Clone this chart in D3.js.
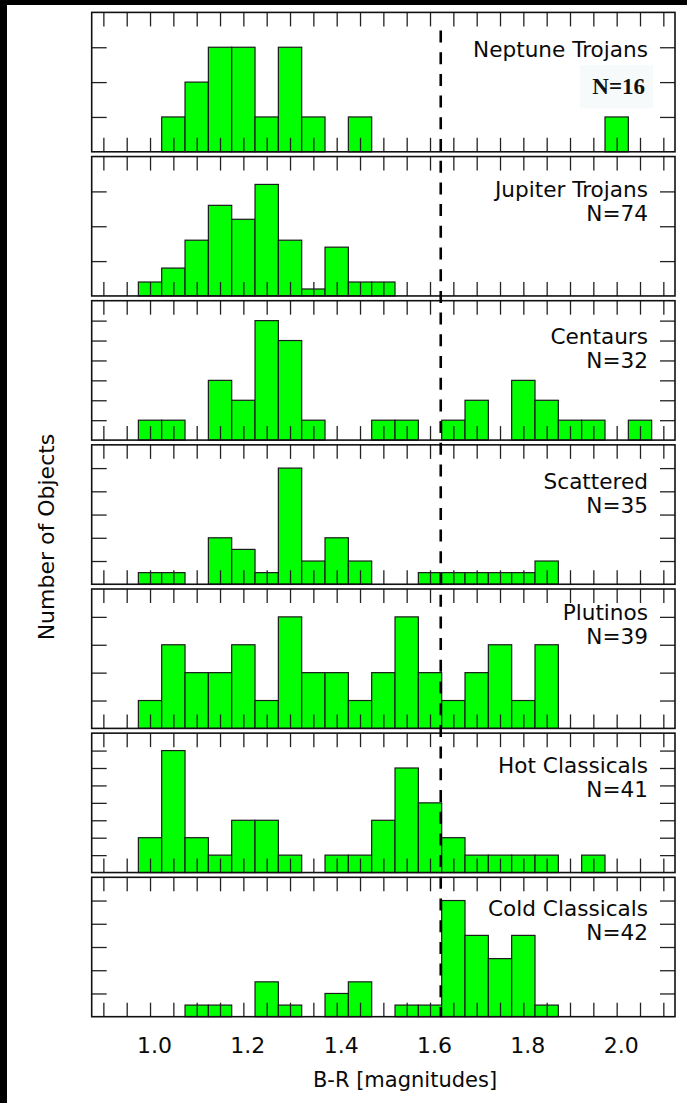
<!DOCTYPE html>
<html>
<head>
<meta charset="utf-8">
<script src="https://cdn.jsdelivr.net/npm/d3@7"></script>
<style>
  html, body { margin: 0; padding: 0; background: #fff; }
  svg { display: block; }
</style>
</head>
<body>
<svg id="chart" width="687" height="1103"></svg>
<script>
// B-R colour histograms, one panel per dynamical class (bins 0.05 mag wide)
const binCenters = [1.00,1.05,1.10,1.15,1.20,1.25,1.30,1.35,1.40,1.45,1.50,
                    1.55,1.60,1.65,1.70,1.75,1.80,1.85,1.90,1.95,2.00,2.05];
const neptuneTrojans = [0,1,2,3,3,1,3,1,0,1,0,0,0,0,0,0,0,0,0,0,1,0];
const jupiterTrojans = [2,4,8,13,11,16,8,1,7,2,2,0,0,0,0,0,0,0,0,0,0,0];
const centaurs       = [1,1,0,3,2,6,5,1,0,0,1,1,0,1,2,0,3,2,1,1,0,1];
const scattered      = [1,1,0,4,3,1,10,2,4,2,0,0,1,1,1,1,1,2,0,0,0,0];
const plutinos       = [1,3,2,2,3,1,4,2,2,1,2,4,2,1,2,3,1,3,0,0,0,0];
const hotClassicals  = [2,7,2,1,3,3,1,0,1,1,3,6,4,2,1,1,1,1,0,1,0,0];
const coldClassicals = [0,0,1,1,0,3,1,0,2,3,0,1,1,10,7,5,7,1,0,0,0,0];

const panelNames  = ["Neptune Trojans","Jupiter Trojans","Centaurs","Scattered",
                     "Plutinos","Hot Classicals","Cold Classicals"];
const panelCounts = [16,74,32,35,39,41,42];
const panelSeries = [neptuneTrojans,jupiterTrojans,centaurs,scattered,
                     plutinos,hotClassicals,coldClassicals];
const yMax  = [4,20,7,12,5,8,12];
const yStep = [1,5,1,2,1,1,2];

const xMinorTicks = d3.range(18, 43).map(k => k * 0.05);   // 0.90 ... 2.10
const xLabelTicks = [1.0,1.2,1.4,1.6,1.8,2.0];
const binWidth = 0.05;
const colourDivide = 1.623;

const svg = d3.select("#chart");
const FONT = "DejaVu Sans, Verdana, sans-serif";

// layout
const left = 91.7, right = 675;
const firstTop = 12.4, panelStep = 144.15, panelH = 139.4;
const tickLen = 14;
const nameBase = [45, 40, 43.3, 44.3, 31.4, 40, 39];

const x = d3.scaleLinear().domain([0.875, 2.125]).range([left, right]);

panelSeries.forEach((series, i) => {
  const top = firstTop + i * panelStep;
  const bottom = top + panelH;
  const y = d3.scaleLinear().domain([0, yMax[i]]).range([bottom, top]);
  const g = svg.append("g");

  // bars
  g.selectAll("rect.bar")
    .data(binCenters.map((c, j) => ({c, n: series[j]})).filter(d => d.n > 0))
    .join("rect")
    .attr("class", "bar")
    .attr("x", d => x(d.c - binWidth / 2))
    .attr("width", d => x(d.c + binWidth / 2) - x(d.c - binWidth / 2))
    .attr("y", d => y(d.n))
    .attr("height", d => y(0) - y(d.n))
    .attr("fill", "#00ff00")
    .attr("stroke", "#1a1a1a")
    .attr("stroke-width", 1.2);

  const yTicks = d3.range(yStep[i], yMax[i], yStep[i]);

  // inward ticks on all four sides
  const axes = [
    g.append("g").attr("transform", `translate(0,${bottom})`)
      .call(d3.axisBottom(x).tickValues(xMinorTicks).tickSize(-tickLen).tickFormat("")),
    g.append("g").attr("transform", `translate(0,${top})`)
      .call(d3.axisTop(x).tickValues(xMinorTicks).tickSize(-tickLen).tickFormat("")),
    g.append("g").attr("transform", `translate(${left},0)`)
      .call(d3.axisLeft(y).tickValues(yTicks).tickSize(-tickLen - 1).tickFormat("")),
    g.append("g").attr("transform", `translate(${right},0)`)
      .call(d3.axisRight(y).tickValues(yTicks).tickSize(-tickLen - 1).tickFormat(""))
  ];
  axes.forEach(a => {
    a.select(".domain").remove();
    a.selectAll(".tick line").attr("stroke", "#222").attr("stroke-width", 1.3);
  });

  // frame
  g.append("rect")
    .attr("x", left).attr("y", top)
    .attr("width", right - left).attr("height", panelH)
    .attr("fill", "none").attr("stroke", "#111").attr("stroke-width", 1.6);

  // class label and sample size
  g.append("text")
    .attr("x", 648).attr("y", top + nameBase[i])
    .attr("text-anchor", "end")
    .attr("font-family", FONT).attr("font-size", 21.6).attr("fill", "#0a0a0a")
    .text(panelNames[i]);

  if (i === 0) {
    g.append("rect")
      .attr("x", 580).attr("y", top + 53).attr("width", 73).attr("height", 43)
      .attr("fill", "#f6fafb");
    g.append("text")
      .attr("x", 645).attr("y", top + 82)
      .attr("text-anchor", "end")
      .attr("font-family", "Liberation Serif, Times New Roman, serif")
      .attr("font-weight", "bold").attr("font-size", 23).attr("fill", "#111")
      .text("N=" + panelCounts[i]);
  } else {
    g.append("text")
      .attr("x", 648).attr("y", top + nameBase[i] + 24)
      .attr("text-anchor", "end")
      .attr("font-family", FONT).attr("font-size", 21.6).attr("fill", "#0a0a0a")
      .text("N=" + panelCounts[i]);
  }

  // numeric labels below the last panel
  if (i === panelSeries.length - 1) {
    const lab = g.append("g").attr("transform", `translate(0,${bottom})`)
      .call(d3.axisBottom(x).tickValues(xLabelTicks).tickSize(0).tickPadding(0)
        .tickFormat(d3.format(".1f")));
    lab.select(".domain").remove();
    lab.selectAll(".tick text")
      .attr("dy", 0).attr("y", 36).attr("dx", 4)
      .attr("font-family", FONT).attr("font-size", 22).attr("fill", "#0a0a0a");
  }
});

// dividing line in colour
const lastBottom = firstTop + 6 * panelStep + panelH;
svg.append("line")
  .attr("x1", x(colourDivide)).attr("x2", x(colourDivide))
  .attr("y1", 30.5).attr("y2", lastBottom)
  .attr("stroke", "#000").attr("stroke-width", 2.6)
  .attr("stroke-dasharray", "12,9.7");

// axis titles
svg.append("text")
  .attr("x", 405).attr("y", 1087)
  .attr("text-anchor", "middle")
  .attr("font-family", FONT).attr("font-size", 21).attr("fill", "#0a0a0a")
  .text("B-R [magnitudes]");

svg.append("text")
  .attr("transform", "translate(54,537) rotate(-90)")
  .attr("text-anchor", "middle")
  .attr("font-family", FONT).attr("font-size", 22).attr("fill", "#0a0a0a")
  .text("Number of Objects");

// dark edge strips
svg.append("rect").attr("x", 0).attr("y", 0).attr("width", 7).attr("height", 1103).attr("fill", "#000");
svg.append("rect").attr("x", 0).attr("y", 0).attr("width", 687).attr("height", 5).attr("fill", "#000");
</script>
</body>
</html>
